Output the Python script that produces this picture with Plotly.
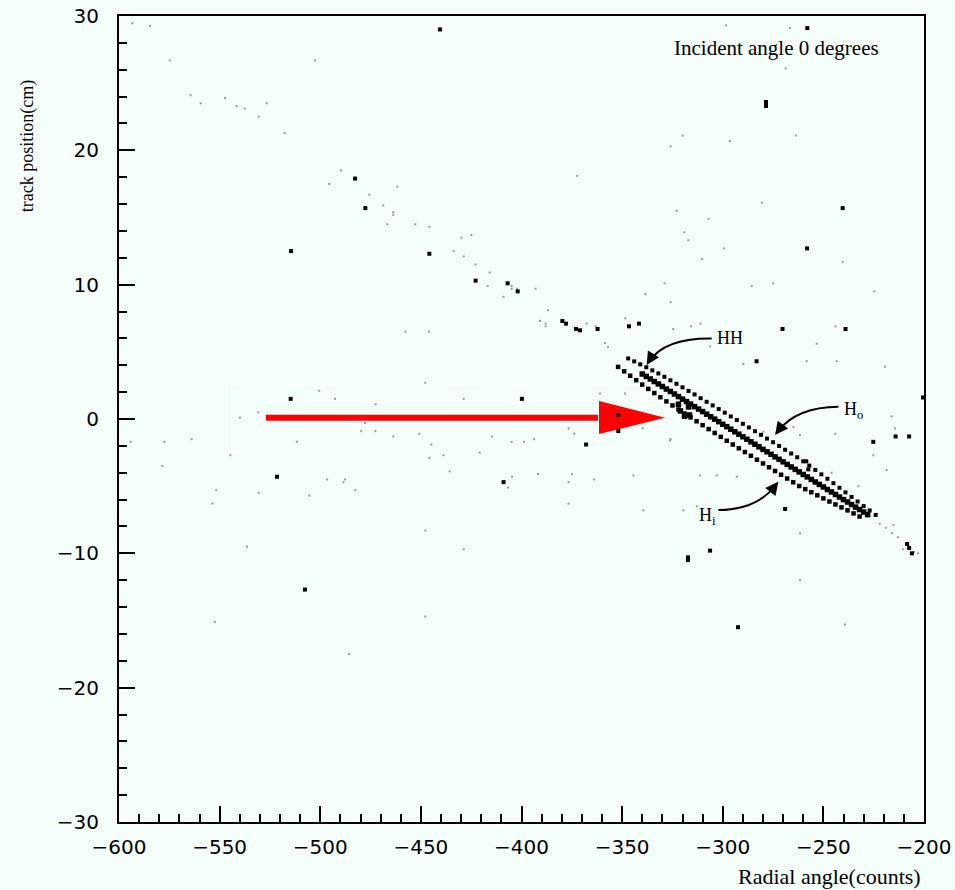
import plotly.graph_objects as go

# ---------------- data ----------------
# three dense diagonal bands (HH / Ho / Hi)
band_top_x = [-347, -344, -341, -338, -335, -332, -329, -326, -323, -320, -317, -314, -311, -308,
              -305, -302, -299, -296, -293, -290, -287, -284, -281, -278, -275, -272, -269, -266,
              -263, -260, -258.5, -257.5, -257, -254, -251, -248, -245, -242, -239, -236, -233, -230,
              -227, -224]
band_top_y = [4.51, 4.29, 4.07, 3.85, 3.62, 3.39, 3.14, 2.88, 2.62, 2.36, 2.09, 1.83, 1.55, 1.28,
              1.01, 0.74, 0.47, 0.19, -0.08, -0.36, -0.63, -0.91, -1.18, -1.46, -1.73, -2.01, -2.29, -2.57,
              -2.85, -3.15, -3.15, -3.75, -3.47, -3.79, -4.12, -4.45, -4.78, -5.12, -5.46, -5.8, -6.14, -6.48,
              -6.81, -7.14]

band_mid_x = [-340, -338, -336, -334, -332, -330, -328, -326, -324, -322, -322, -321, -320, -319,
              -318, -317, -316.5, -316, -314, -312, -310, -308, -306, -304, -302, -300, -298, -296,
              -294, -292, -290, -288, -286, -284, -282, -280, -278, -276, -274, -272, -270, -268,
              -266, -264, -262, -260, -258, -256, -254, -252, -250, -248, -246, -244, -242, -240,
              -238, -236, -234, -232, -230, -228]
band_mid_y = [3.35, 3.17, 2.98, 2.79, 2.61, 2.42, 2.23, 2.05, 1.86, 1.67, 1.1, 0.6, 1.48, 0.2,
              1.3, 0.9, 0.3, 1.11, 0.92, 0.74, 0.55, 0.36, 0.17, -0.01, -0.2, -0.39, -0.57, -0.76,
              -0.95, -1.13, -1.32, -1.51, -1.7, -1.88, -2.07, -2.26, -2.44, -2.63, -2.82, -3.0, -3.19, -3.38,
              -3.57, -3.75, -3.94, -4.13, -4.31, -4.5, -4.69, -4.87, -5.06, -5.25, -5.43, -5.62, -5.81, -6.0,
              -6.18, -6.37, -6.56, -6.74, -6.93, -7.12]

band_bot_x = [-352, -349, -346, -343, -340, -337, -334, -331, -328, -325, -322, -319, -316, -313,
              -310, -307, -304, -301, -298, -295, -292, -289, -286, -283, -280, -277, -274, -271,
              -268, -265, -262, -259, -256, -253, -250, -247, -244, -241, -238, -235, -232]
band_bot_y = [3.88, 3.55, 3.22, 2.89, 2.56, 2.24, 1.93, 1.62, 1.31, 1.01, 0.71, 0.41, 0.12, -0.17,
              -0.46, -0.75, -1.04, -1.33, -1.62, -1.9, -2.18, -2.46, -2.74, -3.03, -3.31, -3.59, -3.87, -4.15,
              -4.43, -4.71, -4.99, -5.22, -5.45, -5.68, -5.91, -6.14, -6.36, -6.58, -6.8, -7.03, -7.26]

# isolated heavy hits
big_x = [-440.5, -278.5, -278.5, -240.4, -258.1, -258.0, -482.7, -477.6, -514.5, -445.8, -422.8,
         -406.9, -401.9, -379.7, -377.9, -372.9, -370.9, -362.2, -346.6, -341.6, -270.3, -239.0,
         -521.5, -507.6, -408.9, -367.9, -514.7, -399.8, -317.3, -317.3, -306.3, -292.4, -269.0,
         -214.1, -207.4, -200.5, -208.4, -207.4, -225.2, -283.2, -351.9, -351.9, -206.0]
big_y = [29.0, 23.6, 23.3, 15.7, 12.7, 29.1, 17.9, 15.7, 12.5, 12.3, 10.3,
         10.1, 9.5, 7.3, 7.1, 6.7, 6.6, 6.7, 6.9, 7.1, 6.7, 6.7,
         -4.3, -12.7, -4.7, -1.9, 1.5, 1.5, -10.3, -10.5, -9.8, -15.5, -6.7,
         -1.3, -1.3, 1.6, -9.3, -9.6, -1.7, 4.3, 0.3, -0.9, -10.0]

# faint single hits
small_x = [-593.4, -584.6, -574.7, -502.6, -564.4, -559.4, -547.3, -541.5, -537.5, -526.6, -530.6,
           -517.7, -489.7, -495.5, -461.7, -475.6, -468.7, -463.7, -463.7, -466.7, -452.8, -445.8,
           -429.9, -424.9, -433.7, -428.7, -422.8, -415.8, -416.8, -404.9, -404.9, -402.2, -408.9,
           -298.4, -266.6, -268.7, -319.9, -296.4, -263.7, -325.9, -372.3, -280.5, -322.9, -307.1,
           -319.1, -317.1, -299.4, -310.3, -240.4, -328.9, -285.6, -274.9, -224.7, -338.5, -325.9,
           -393.0, -386.8, -390.8, -388.0, -388.0, -367.6, -363.2, -348.4, -324.6, -315.8, -311.0,
           -244.0, -457.7, -446.0, -358.5, -357.0,
           -594.2, -577.5, -563.9, -578.5, -544.7, -551.7, -553.6, -530.6, -511.6, -505.4, -496.6,
           -488.5, -487.6, -482.6, -479.6, -472.6, -463.7, -450.8, -444.8, -445.8, -438.8, -435.7,
           -420.8, -414.7, -404.9, -398.8, -393.8, -404.7, -406.7, -391.8, -374.9, -376.6, -363.9,
           -376.6, -373.8, -447.8, -536.4, -428.7, -447.8, -552.4, -485.7,
           -539.9, -530.8, -500.5, -492.7, -472.5, -477.8, -447.8, -428.7, -376.6, -361.0, -348.6,
           -339.8, -325.9,
           -306.3, -289.8, -258.3, -243.4, -219.4, -253.3, -264.9, -261.6, -326.2, -344.4, -311.3,
           -303.0, -293.0, -312.9, -319.6, -339.5, -245.9, -232.6, -218.6, -225.2, -216.1, -214.4,
           -261.6, -215.2, -279.8, -244.1, -239.3, -261.6,
           -222.0, -219.0, -216.0, -213.0, -210.5, -205.0, -203.0]
small_y = [29.46, 29.26, 26.7, 26.7, 24.1, 23.5, 23.9, 23.3, 23.1, 23.5, 22.5,
           21.3, 18.5, 17.5, 17.3, 16.7, 15.9, 15.4, 15.2, 14.5, 14.5, 14.3,
           13.5, 13.7, 12.5, 12.1, 11.5, 10.9, 9.9, 9.9, 9.7, 9.7, 9.1,
           29.3, 29.1, 26.1, 21.1, 20.7, 21.1, 20.3, 18.1, 16.1, 15.5, 14.9,
           13.9, 13.3, 12.7, 11.9, 11.7, 10.1, 9.9, 10.1, 9.5, 9.3, 8.7,
           9.7, 8.1, 7.3, 7.1, 6.9, 7.1, 6.9, 7.5, 6.7, 6.9, 7.1,
           6.9, 6.5, 6.5, 5.65, 5.35,
           -1.7, -1.7, -1.5, -3.5, -2.7, -5.3, -6.3, -5.5, -1.7, -5.7, -4.5,
           -4.7, -4.5, -5.3, -0.9, -0.9, -1.3, -1.1, -1.9, -2.9, -2.7, -3.9,
           -2.5, -1.3, -1.7, -1.7, -1.5, -4.3, -5.1, -4.1, -4.1, -4.7, -4.5,
           -6.3, -1.1, -8.3, -9.5, -9.7, -14.7, -15.1, -17.5,
           0.1, 0.5, 2.1, 1.5, 1.1, -0.3, 2.7, 1.5, -0.7, 1.9, 1.9,
           -0.7, -1.5,
           5.4, 4.1, 4.3, 4.3, 3.9, 5.6, -0.6, -1.2, -1.6, -4.2, -4.2,
           -4.2, -4.3, -6.5, -6.8, -6.8, -4.0, -5.0, -3.8, -2.7, 0.2, -0.7,
           -8.5, -7.9, -0.95, -1.1, -15.3, -12.0,
           -7.8, -8.1, -8.5, -8.8, -9.7, -9.9, -10.0]

x_range = [-600, -200]
y_range = [-30, 30]

BG = "#f5fffa"
SERIF = "Liberation Serif, Times New Roman, serif"
SANS = "DejaVu Sans, sans-serif"

fig = go.Figure()

def add_pts(xs, ys, size, color):
    fig.add_trace(go.Scatter(x=xs, y=ys, mode="markers", hoverinfo="skip", showlegend=False,
                             marker=dict(symbol="square", size=size, color=color, line=dict(width=0))))

add_pts(small_x, small_y, 2, "#9a9a9a")
add_pts(big_x, big_y, 4, "black")
add_pts(band_top_x, band_top_y, 4, "black")
add_pts(band_bot_x, band_bot_y, 4.5, "black")
add_pts(band_mid_x, band_mid_y, 5.5, "black")

shapes = []
# faint white box around the arrow
shapes.append(dict(type="rect", xref="x", yref="y", x0=-544, x1=-311, y0=-2.45, y1=2.55,
                   line=dict(color="white", width=1), layer="below"))
# red arrow
shapes.append(dict(type="line", xref="x", yref="y", x0=-527, x1=-362, y0=0.1, y1=0.1,
                   line=dict(color="#ff0000", width=6), layer="below"))
shapes.append(dict(type="path", xref="x", yref="y",
                   path="M -361.5,1.34 L -328.7,0.1 L -361.5,-1.12 Z",
                   fillcolor="#ff0000", line=dict(width=0), layer="below"))
# curved label arrows
for p in ["M -305.5,6.0 Q -328.7,6.05 -336.5,4.3",
          "M -242.5,0.91 Q -263.1,0.89 -272.5,-0.9",
          "M -302.2,-6.78 Q -283.2,-6.78 -273.8,-4.95"]:
    shapes.append(dict(type="path", xref="x", yref="y", path=p,
                       line=dict(color="black", width=2)))

annotations = [
    dict(x=-273.5, y=27.6, xref="x", yref="y", text="Incident angle 0 degrees", showarrow=False,
         font=dict(family=SERIF, size=21, color="black")),
    dict(x=-303.9, y=6.0, xref="x", yref="y", text="HH", showarrow=False, xanchor="left",
         font=dict(family=SERIF, size=18, color="black")),
    dict(x=-240.7, y=0.6, xref="x", yref="y", text="H<sub>o</sub>", showarrow=False, xanchor="left",
         font=dict(family=SERIF, size=18, color="black")),
    dict(x=-312.8, y=-7.25, xref="x", yref="y", text="H<sub>i</sub>", showarrow=False, xanchor="left",
         font=dict(family=SERIF, size=18, color="black")),
    # arrow heads at the end of the curves
    dict(x=-337.8, y=4.02, ax=-334.2, ay=4.9, xref="x", yref="y", axref="x", ayref="y", text="",
         showarrow=True, arrowhead=2, arrowsize=1.3, arrowwidth=2, arrowcolor="black", standoff=0),
    dict(x=-274.0, y=-1.19, ax=-269.8, ay=-0.36, xref="x", yref="y", axref="x", ayref="y", text="",
         showarrow=True, arrowhead=2, arrowsize=1.3, arrowwidth=2, arrowcolor="black", standoff=0),
    dict(x=-272.4, y=-4.67, ax=-276.7, ay=-5.51, xref="x", yref="y", axref="x", ayref="y", text="",
         showarrow=True, arrowhead=2, arrowsize=1.3, arrowwidth=2, arrowcolor="black", standoff=0),
    # axis titles
    dict(x=-0.114, y=0.923, xref="paper", yref="paper", text="track position(cm)", textangle=-90,
         showarrow=False, xanchor="center", yanchor="top",
         font=dict(family=SERIF, size=18, color="black")),
    dict(x=0.9988, y=-0.067, xref="paper", yref="paper", text="Radial angle(counts)",
         showarrow=False, xanchor="right", yanchor="middle",
         font=dict(family=SERIF, size=22, color="black")),
]

axis_common = dict(showgrid=False, zeroline=False, showline=True, linecolor="black", linewidth=2,
                   mirror=True, ticks="inside", ticklen=16, tickwidth=2, tickcolor="black",
                   automargin=False,
                   tickfont=dict(family=SANS, size=20, color="black"))

fig.update_layout(
    width=955, height=890, autosize=False,
    margin=dict(l=119, r=31, t=16, b=68, pad=0),
    paper_bgcolor=BG, plot_bgcolor=BG,
    xaxis=dict(range=x_range, dtick=50, tick0=-600, ticklabelstandoff=6,
               minor=dict(ticks="inside", ticklen=8, dtick=10, tickwidth=1.5, tickcolor="black"),
               **axis_common),
    yaxis=dict(range=y_range, dtick=10, tick0=-30, ticklabelstandoff=14,
               minor=dict(ticks="inside", ticklen=8, dtick=2, tickwidth=1.5, tickcolor="black"),
               **axis_common),
    shapes=shapes, annotations=annotations,
)

fig.write_html("out.html")
